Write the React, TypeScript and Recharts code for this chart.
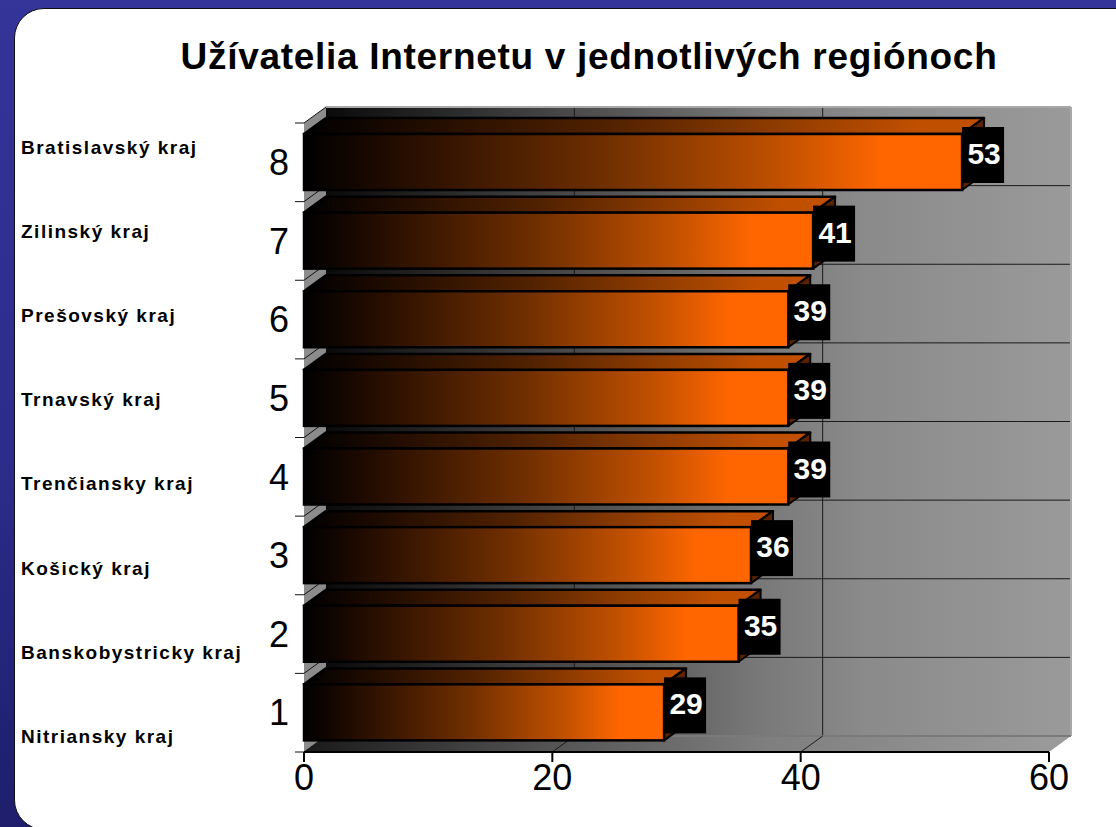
import React from 'react';
import { BarChart, Bar, XAxis, YAxis, LabelList } from 'recharts';

const TITLE = 'Užívatelia Internetu v jednotlivých regiónoch';
const ranks = ['8', '7', '6', '5', '4', '3', '2', '1'];
const regions = [
  'Bratislavský kraj',
  'Zilinský kraj',
  'Prešovský kraj',
  'Trnavský kraj',
  'Trenčiansky kraj',
  'Košický kraj',
  'Banskobystricky kraj',
  'Nitriansky kraj',
];
const values = [53, 41, 39, 39, 39, 36, 35, 29];
const xTicks = [0, 20, 40, 60];
const X_MAX = 60;

const data = ranks.map((r, i) => ({ rank: r, region: regions[i], value: values[i] }));

const W = 1116;
const H = 827;
const PL = 304;
const PR = 1049;
const PT = 123;
const PB = 752;
const DX = 22;
const DY = -16;
const FONT = '"Liberation Sans", Arial, Helvetica, sans-serif';

function Frame() {
  const n = ranks.length;
  const bandH = (PB - PT) / n;
  const xOf = (v: number) => PL + (v / X_MAX) * (PR - PL);
  const inner = xTicks.filter((t) => t > 0 && t < X_MAX);
  const bounds = Array.from({ length: n + 1 }, (_, k) => PT + k * bandH);
  return (
    <g>
      <defs>
        <linearGradient id="wallGrad" x1="0" y1="0" x2="1" y2="0">
          <stop offset="0" stopColor="#0a0a0a" />
          <stop offset="0.33" stopColor="#4a4a4a" />
          <stop offset="0.58" stopColor="#787878" />
          <stop offset="0.72" stopColor="#8a8a8a" />
          <stop offset="1" stopColor="#9a9a9a" />
        </linearGradient>
        <linearGradient id="floorGrad" x1="0" y1="0" x2="1" y2="0">
          <stop offset="0" stopColor="#1a1a1a" />
          <stop offset="0.33" stopColor="#555555" />
          <stop offset="0.6" stopColor="#7e7e7e" />
          <stop offset="1" stopColor="#9c9c9c" />
        </linearGradient>
        <linearGradient id="barFront" x1="0" y1="0" x2="1" y2="0">
          <stop offset="0" stopColor="#000000" />
          <stop offset="0.12" stopColor="#1e0a00" />
          <stop offset="0.45" stopColor="#6e2e00" />
          <stop offset="0.72" stopColor="#c05000" />
          <stop offset="0.88" stopColor="#ff6600" />
          <stop offset="1" stopColor="#ff6600" />
        </linearGradient>
        <linearGradient id="barTop" x1="0" y1="0" x2="1" y2="0">
          <stop offset="0" stopColor="#000000" />
          <stop offset="0.12" stopColor="#170800" />
          <stop offset="0.45" stopColor="#522200" />
          <stop offset="0.7" stopColor="#903c00" />
          <stop offset="0.9" stopColor="#c04f00" />
          <stop offset="1" stopColor="#c04f00" />
        </linearGradient>
      </defs>

      <text
        x={589}
        y={69}
        textAnchor="middle"
        fontFamily={FONT}
        fontWeight="bold"
        fontSize={37}
        letterSpacing={0.7}
        fill="#000"
      >
        {TITLE}
      </text>

      {regions.map((r, i) => (
        <text
          key={r}
          x={21}
          y={154 + i * 84.1}
          fontFamily={FONT}
          fontWeight="bold"
          fontSize={19}
          letterSpacing={1.5}
          fill="#000"
        >
          {r}
        </text>
      ))}

      {/* back wall */}
      <rect x={PL + DX} y={PT + DY} width={PR - PL} height={PB - PT} fill="url(#wallGrad)" />
      {bounds.slice(1, n).map((y, k) => (
        <line key={'h' + k} x1={PL + DX} x2={PR + DX} y1={y + DY} y2={y + DY} stroke="#1a1a1a" strokeWidth={1} />
      ))}
      {inner.map((t) => (
        <line key={'v' + t} x1={xOf(t) + DX} x2={xOf(t) + DX} y1={PT + DY} y2={PB + DY} stroke="#1a1a1a" strokeWidth={1} />
      ))}
      <line x1={PL + DX} x2={PR + DX} y1={PT + DY} y2={PT + DY} stroke="#a8a8a8" strokeWidth={2} />
      <line x1={PR + DX} x2={PR + DX} y1={PT + DY} y2={PB + DY} stroke="#a8a8a8" strokeWidth={2} />

      {/* floor */}
      <polygon
        points={`${PL},${PB} ${PR},${PB} ${PR + DX},${PB + DY} ${PL + DX},${PB + DY}`}
        fill="url(#floorGrad)"
      />
      <line x1={PL + DX} x2={PR + DX} y1={PB + DY} y2={PB + DY} stroke="#7a7a7a" strokeWidth={2} />
      {inner.map((t) => (
        <line key={'f' + t} x1={xOf(t)} x2={xOf(t) + DX} y1={PB} y2={PB + DY} stroke="#1a1a1a" strokeWidth={1} />
      ))}

      {/* left side wall */}
      <polygon
        points={`${PL},${PT} ${PL + DX},${PT + DY} ${PL + DX},${PB + DY} ${PL},${PB}`}
        fill="#8c8c8c"
      />
      {bounds.map((y, k) => (
        <polyline
          key={'s' + k}
          points={`${PL - 9},${y} ${PL},${y} ${PL + DX},${y + DY}`}
          fill="none"
          stroke="#111"
          strokeWidth={1}
        />
      ))}
    </g>
  );
}

const Bar3D = (props: any) => {
  const { x, y, width, height } = props;
  if (!(width > 0)) return null;
  const x2 = x + width;
  return (
    <g>
      <polygon
        points={`${x},${y} ${x2},${y} ${x2 + DX},${y + DY} ${x + DX},${y + DY}`}
        fill="url(#barTop)"
        stroke="#000"
        strokeWidth={2.5}
        strokeLinejoin="round"
      />
      <polygon
        points={`${x2},${y} ${x2 + DX},${y + DY} ${x2 + DX},${y + height + DY} ${x2},${y + height}`}
        fill="#5a2200"
        stroke="#000"
        strokeWidth={2}
        strokeLinejoin="round"
      />
      <rect x={x} y={y} width={width} height={height} fill="url(#barFront)" stroke="#000" strokeWidth={2.5} />
    </g>
  );
};

const ValueBox = (props: any) => {
  const vb = props.viewBox || {};
  const x = vb.x ?? props.x;
  const y = vb.y ?? props.y;
  const width = vb.width ?? props.width;
  const value = props.value;
  const bx = x + width;
  return (
    <g>
      <rect x={bx} y={y - 7} width={42} height={56} fill="#000" />
      <text
        x={bx + 22}
        y={y + 30}
        textAnchor="middle"
        fill="#fff"
        fontSize={30}
        fontWeight="bold"
        fontFamily={FONT}
      >
        {value}
      </text>
    </g>
  );
};

export default function App() {
  return (
    <div
      style={{
        position: 'absolute',
        left: 0,
        top: 0,
        width: W,
        height: H,
        overflow: 'hidden',
        background: 'linear-gradient(180deg, #343499 0%, #2c2c8c 55%, #1e1e6c 100%)',
      }}
    >
      <div
        style={{
          position: 'absolute',
          left: 14,
          top: 8,
          width: 1200,
          height: 822,
          background: '#fff',
          border: '1px solid #111',
          borderRadius: 30,
          boxSizing: 'border-box',
        }}
      />
      <div style={{ position: 'absolute', left: 0, top: 0 }}>
        <BarChart
          width={W}
          height={H}
          data={data}
          layout="vertical"
          margin={{ top: PT, right: W - PR, bottom: H - PB - 30, left: PL - 60 }}
          barSize={56}
        >
          <Frame />
          <XAxis
            type="number"
            domain={[0, X_MAX]}
            ticks={xTicks}
            height={30}
            axisLine={{ stroke: '#000', strokeWidth: 2 }}
            tickLine={{ stroke: '#000', strokeWidth: 2 }}
            tickSize={10}
            tick={{ fontSize: 36, fill: '#000', fontFamily: FONT }}
          />
          <YAxis
            type="category"
            dataKey="rank"
            width={60}
            axisLine={false}
            tickLine={false}
            tickSize={6}
            tickMargin={9}
            tick={{ fontSize: 36, fill: '#000', fontFamily: FONT }}
          />
          <Bar dataKey="value" shape={Bar3D} isAnimationActive={false}>
            <LabelList dataKey="value" content={ValueBox} />
          </Bar>
        </BarChart>
      </div>
    </div>
  );
}
